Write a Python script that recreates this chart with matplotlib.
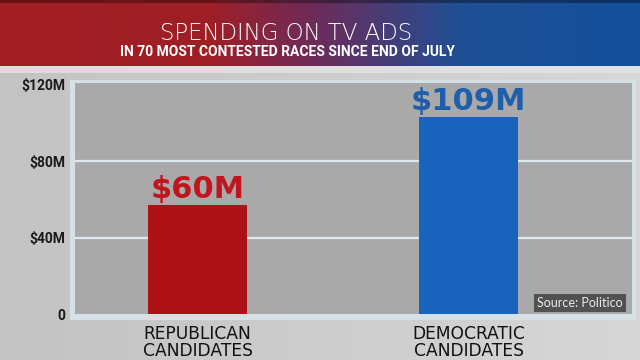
import numpy as np
import matplotlib.pyplot as plt
from matplotlib.patches import Rectangle
from matplotlib.colors import LinearSegmentedColormap

# values (bar heights as drawn, labels as printed)
categories = ['REPUBLICAN\nCANDIDATES', 'DEMOCRATIC\nCANDIDATES']
spend_drawn = [57, 103]
spend_labels = ['$60M', '$109M']
bar_colors = ['#ad1217', '#1a63bd']
label_colors = ['#c0151d', '#1f5eab']
yticks = [0, 40, 80, 120]
ytick_labels = ['0', '$40M', '$80M', '$120M']

W, H = 640, 360
fig = plt.figure(figsize=(6.4, 3.6), dpi=100)


def fx(x):
    return x / W


def fy(y):
    return 1 - y / H


# full figure background
bg = fig.add_axes([0, 0, 1, 1], zorder=0)
grad = np.linspace(0, 1, 256)[None, :]
bg.imshow(grad, aspect='auto', extent=[0, 1, 0, 1],
          cmap=LinearSegmentedColormap.from_list('bg', ['#c3c3c3', '#d7d7d7']))
bg.set_xlim(0, 1)
bg.set_ylim(0, 1)
bg.set_axis_off()

# light strip under banner
bg.add_patch(Rectangle((0, fy(73)), 1, 7 / H, color='#e4e4e4', alpha=0.8, lw=0))
# frame around the plot
bg.add_patch(Rectangle((fx(70), fy(320)), (636 - 70) / W, (320 - 80) / H,
                       color='#d6e1e6', lw=0))

# banner gradient
ban = fig.add_axes([0, fy(66), 1, 66 / H], zorder=1)
ban_cmap = LinearSegmentedColormap.from_list(
    'ban', [(0, '#a11d22'), (0.33, '#9e1f27'), (0.5, '#6a2d5c'),
            (0.72, '#1f4f94'), (1, '#13509c')])
ban.imshow(grad, aspect='auto', extent=[0, 1, 0, 1], cmap=ban_cmap)
ban.add_patch(Rectangle((0, 0.96), 1, 0.04, color='black', alpha=0.35, lw=0))
ban.set_xlim(0, 1)
ban.set_ylim(0, 1)
ban.set_axis_off()

fig.text(fx(286), fy(40), 'SPENDING ON TV ADS', ha='center', va='baseline',
         fontsize=16.5, color='white', family='DejaVu Sans', weight='light',
         zorder=5)
fig.text(fx(287), fy(56), 'IN 70 MOST CONTESTED RACES SINCE END OF JULY',
         ha='center', va='baseline', fontsize=10, color='white',
         family='Roboto', weight='bold', zorder=5)

# main chart
ax = fig.add_axes([fx(75), fy(314), (632 - 75) / W, (314 - 83) / H], zorder=2)
ax.set_facecolor('#a9a9a9')
x = np.arange(len(categories))
ax.bar(x, spend_drawn, width=0.365, color=bar_colors, zorder=3)
for yv in yticks[1:3]:
    ax.axhline(yv, color='#dfe8ec', lw=1.6, zorder=1)
ax.set_xlim(-0.452, 1.603)
ax.set_ylim(0, 121)
for sp in ax.spines.values():
    sp.set_visible(False)

ax.set_yticks(yticks, ytick_labels)
ax.set_xticks(x, categories)
ax.tick_params(length=0)
ax.tick_params(axis='y', pad=7, labelsize=10, labelcolor='#1a1a1a')
ax.tick_params(axis='x', pad=8, labelsize=12.3, labelcolor='#111111')
for t in ax.get_yticklabels():
    t.set_family('Roboto')
    t.set_weight('bold')
for t in ax.get_xticklabels():
    t.set_family('DejaVu Sans')
    t.set_linespacing(0.95)

for i, (v, lab) in enumerate(zip(spend_drawn, spend_labels)):
    ax.annotate(lab, (x[i], v), xytext=(0, 5), textcoords='offset points',
                ha='center', va='baseline', fontsize=22, weight='bold',
                family='DejaVu Sans', color=label_colors[i], zorder=4)

fig.text(fx(580), fy(303), 'Source: Politico', ha='center', va='center',
         fontsize=9, color='#ececec', family='Lato', zorder=5,
         bbox=dict(boxstyle='square,pad=0.25', fc='#515151', ec='none'))

fig.savefig('out.png', dpi=100)
